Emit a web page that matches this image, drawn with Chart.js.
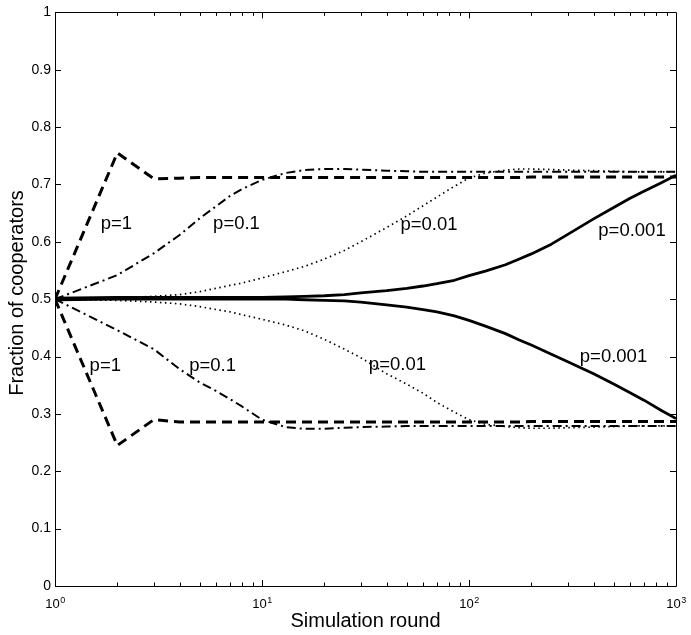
<!DOCTYPE html>
<html>
<head>
<meta charset="utf-8">
<script src="https://cdn.jsdelivr.net/npm/chart.js@4/dist/chart.umd.min.js"></script>
<style>
html,body{margin:0;padding:0;background:#fff;}
#c{display:block;}
</style>
</head>
<body>
<canvas id="c" width="691" height="635"></canvas>
<script>
// ---- data ----
const rounds = [1, 2, 3, 4, 5, 6, 7, 8, 10, 13, 16, 20, 25, 30, 40, 50, 60, 70, 85, 100, 120, 150, 175, 200, 250, 300, 400, 500, 600, 700, 850, 1000];

const upP1     = [0.500, 0.755, 0.710, 0.711, 0.712, 0.712, 0.712, 0.712, 0.712, 0.712, 0.712, 0.712, 0.712, 0.712, 0.712, 0.712, 0.712, 0.712, 0.712, 0.712, 0.712, 0.712, 0.712, 0.713, 0.713, 0.713, 0.713, 0.713, 0.713, 0.713, 0.713, 0.713];
const lowP1    = [0.500, 0.245, 0.290, 0.286, 0.286, 0.286, 0.286, 0.286, 0.286, 0.286, 0.286, 0.286, 0.286, 0.286, 0.286, 0.286, 0.286, 0.286, 0.286, 0.286, 0.286, 0.286, 0.286, 0.287, 0.287, 0.287, 0.287, 0.287, 0.287, 0.287, 0.287, 0.287];
const upP01    = [0.500, 0.542, 0.580, 0.612, 0.641, 0.662, 0.680, 0.692, 0.708, 0.720, 0.725, 0.727, 0.727, 0.726, 0.724, 0.723, 0.722, 0.722, 0.722, 0.722, 0.722, 0.722, 0.722, 0.722, 0.722, 0.722, 0.722, 0.722, 0.722, 0.722, 0.722, 0.722];
const lowP01   = [0.500, 0.446, 0.413, 0.378, 0.355, 0.340, 0.326, 0.313, 0.290, 0.277, 0.274, 0.274, 0.276, 0.277, 0.278, 0.279, 0.279, 0.279, 0.279, 0.279, 0.279, 0.279, 0.279, 0.279, 0.279, 0.279, 0.279, 0.279, 0.279, 0.279, 0.279, 0.279];
const upP001   = [0.500, 0.502, 0.505, 0.508, 0.513, 0.519, 0.524, 0.528, 0.537, 0.548, 0.557, 0.570, 0.585, 0.600, 0.625, 0.645, 0.663, 0.678, 0.697, 0.711, 0.720, 0.725, 0.727, 0.727, 0.726, 0.725, 0.724, 0.723, 0.722, 0.722, 0.722, 0.722];
const lowP001  = [0.500, 0.498, 0.495, 0.492, 0.487, 0.482, 0.478, 0.473, 0.465, 0.455, 0.445, 0.430, 0.413, 0.398, 0.370, 0.352, 0.336, 0.320, 0.303, 0.290, 0.282, 0.278, 0.276, 0.275, 0.275, 0.276, 0.277, 0.278, 0.279, 0.279, 0.279, 0.279];
const upP0001  = [0.502, 0.503, 0.503, 0.503, 0.503, 0.503, 0.503, 0.503, 0.503, 0.504, 0.505, 0.506, 0.508, 0.511, 0.515, 0.519, 0.523, 0.527, 0.533, 0.541, 0.549, 0.560, 0.570, 0.579, 0.596, 0.613, 0.640, 0.660, 0.676, 0.688, 0.703, 0.716];
const lowP0001 = [0.499, 0.500, 0.500, 0.500, 0.500, 0.500, 0.500, 0.500, 0.500, 0.500, 0.499, 0.498, 0.497, 0.495, 0.490, 0.486, 0.482, 0.478, 0.471, 0.463, 0.453, 0.440, 0.429, 0.420, 0.404, 0.391, 0.370, 0.352, 0.337, 0.324, 0.306, 0.292];

const yTicks = [0, 0.1, 0.2, 0.3, 0.4, 0.5, 0.6, 0.7, 0.8, 0.9, 1];
const yTickLabels = ['0', '0.1', '0.2', '0.3', '0.4', '0.5', '0.6', '0.7', '0.8', '0.9', '1'];
const xMajor = [1, 10, 100, 1000];
const xMajorBase = ['10', '10', '10', '10'];
const xMajorExp = ['0', '1', '2', '3'];

const annText = ['p=1', 'p=0.1', 'p=0.01', 'p=0.001', 'p=1', 'p=0.1', 'p=0.01', 'p=0.001'];
const annX    = [1.98, 7.53, 64.1, 613, 1.75, 5.77, 45.1, 499];
const annY    = [0.631, 0.631, 0.629, 0.619, 0.383, 0.383, 0.385, 0.399];

const xTitle = 'Simulation round';
const yTitle = 'Fraction of cooperators';

// ---- build ----
function pts(vals){ return rounds.map((t,i)=>({x:t, y:vals[i]})); }
const DASH = [10, 6], DASHDOT = [9, 4, 2, 4], DOT = [1.5, 3.5];
function ds(vals, dash, w){
  return {data: pts(vals), borderColor:'#000', borderWidth:w, borderDash:dash,
          pointRadius:0, tension:0, fill:false, borderCapStyle:'butt', borderJoinStyle:'round'};
}

const FONT = 'Liberation Sans, Arial, Helvetica, sans-serif';

const framePlugin = {
  id:'frame',
  afterDraw(chart){
    const ctx = chart.ctx, a = chart.chartArea;
    const xs = chart.scales.x, ys = chart.scales.y;
    ctx.save();
    ctx.strokeStyle = '#000';
    ctx.lineWidth = 1;
    ctx.beginPath();
    ctx.rect(Math.round(a.left)+0.5, Math.round(a.top)+0.5, Math.round(a.right-a.left), Math.round(a.bottom-a.top));
    ctx.stroke();
    // y ticks (inward, both sides)
    ctx.beginPath();
    yTicks.forEach(v=>{
      const y = Math.round(ys.getPixelForValue(v))+0.5;
      ctx.moveTo(a.left, y); ctx.lineTo(a.left+6, y);
      ctx.moveTo(a.right, y); ctx.lineTo(a.right-6, y);
    });
    // x ticks
    for (let d=1; d<1000; d*=10){
      for (let k=1; k<10; k++){
        const v = d*k;
        const x = Math.round(xs.getPixelForValue(v))+0.5;
        const len = (k===1)?6:3.5;
        ctx.moveTo(x, a.bottom); ctx.lineTo(x, a.bottom-len);
        ctx.moveTo(x, a.top); ctx.lineTo(x, a.top+len);
      }
    }
    ctx.stroke();
    // x tick labels with superscripts
    ctx.fillStyle = '#000';
    ctx.textBaseline = 'alphabetic';
    xMajor.forEach((v,i)=>{
      const x = xs.getPixelForValue(v);
      ctx.font = '13px ' + FONT;
      const wb = ctx.measureText(xMajorBase[i]).width;
      ctx.font = '9px ' + FONT;
      const we = ctx.measureText(xMajorExp[i]).width;
      const x0 = x - (wb+we)/2;
      ctx.font = '13px ' + FONT;
      ctx.textAlign = 'left';
      ctx.fillText(xMajorBase[i], x0, a.bottom + 21.5);
      ctx.font = '9px ' + FONT;
      ctx.fillText(xMajorExp[i], x0+wb+0.5, a.bottom + 16.5);
    });
    // y title
    ctx.save();
    ctx.translate(17, 293);
    ctx.rotate(-Math.PI/2);
    ctx.font = '20px ' + FONT;
    ctx.textAlign = 'center';
    ctx.textBaseline = 'middle';
    ctx.fillText(yTitle, 0, 0);
    ctx.restore();
    // annotations
    ctx.font = '18.5px ' + FONT;
    ctx.textAlign = 'center';
    ctx.textBaseline = 'middle';
    annText.forEach((s,i)=>{
      ctx.fillText(s, xs.getPixelForValue(annX[i]), ys.getPixelForValue(annY[i]));
    });
    ctx.restore();
  }
};

new Chart(document.getElementById('c'), {
  type:'line',
  data:{ datasets:[
    ds(upP1, DASH, 3), ds(lowP1, DASH, 3),
    ds(upP01, DASHDOT, 2), ds(lowP01, DASHDOT, 2),
    ds(upP001, DOT, 1.7), ds(lowP001, DOT, 1.7),
    ds(upP0001, [], 2.8), ds(lowP0001, [], 2.8)
  ]},
  options:{
    responsive:false, animation:false, devicePixelRatio:1,
    layout:{padding:{top:12, right:15, left:0, bottom:0}},
    plugins:{legend:{display:false}, tooltip:{enabled:false}},
    scales:{
      x:{type:'logarithmic', min:1, max:1000,
         grid:{display:false, drawTicks:false}, border:{display:false},
         ticks:{display:false},
         title:{display:true, text:xTitle, color:'#000', font:{family:FONT, size:20}, padding:{top:0,bottom:2}},
         afterFit(s){ s.height = 49; }},
      y:{type:'linear', min:0, max:1,
         grid:{display:false, drawTicks:false}, border:{display:false},
         afterBuildTicks(s){ s.ticks = yTicks.map(v=>({value:v})); },
         ticks:{color:'#000', padding:4, font:{family:FONT, size:14},
                callback(v){ const i = yTicks.findIndex(t=>Math.abs(t-v)<1e-9); return i>=0 ? yTickLabels[i] : ''; }},
         title:{display:false},
         afterFit(s){ s.width = 55; }}
    }
  },
  plugins:[framePlugin]
});
</script>
</body>
</html>
